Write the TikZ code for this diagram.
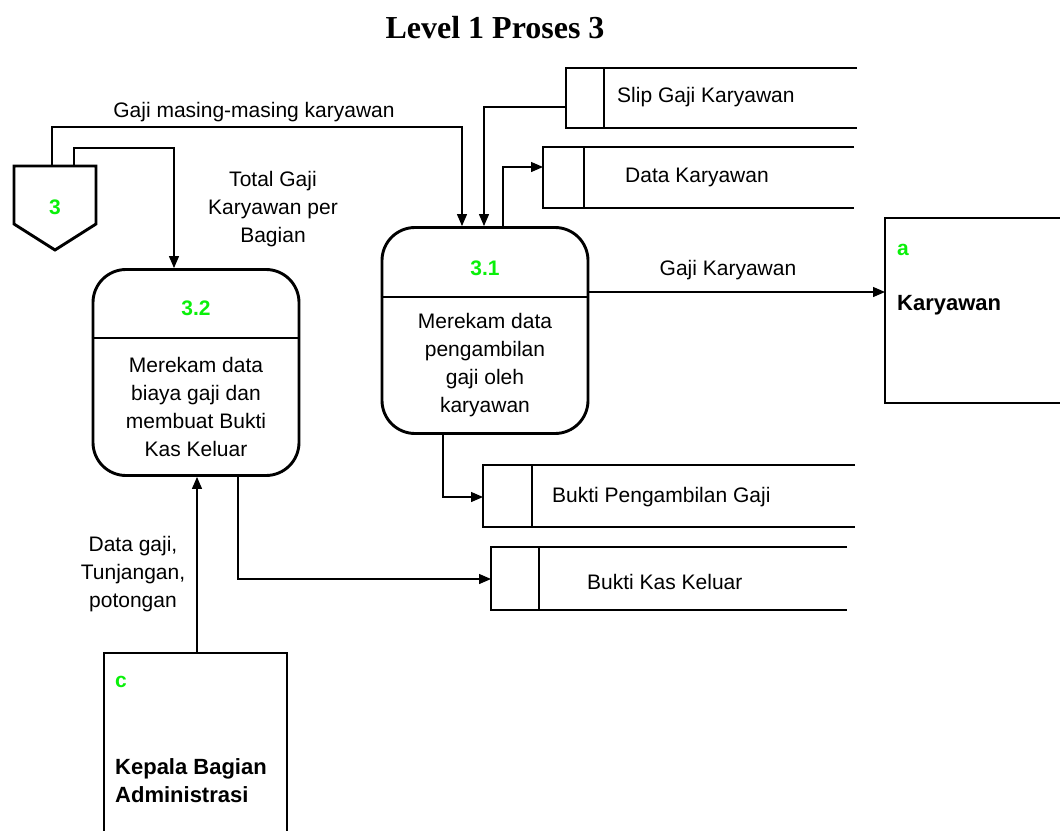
\documentclass[tikz,border=0pt]{standalone}
\usepackage{fontspec}
\setmainfont{Liberation Sans}
\newfontfamily\titleserif{Liberation Serif}
\usetikzlibrary{arrows.meta}
\definecolor{idgreen}{RGB}{10,240,10}

\begin{document}
\begin{tikzpicture}[x=1pt,y=-1pt,
  border/.style={line width=2.9pt},
  flow/.style={line width=1.3pt,-{Triangle[length=12pt,width=10pt]}},
  proc/.style={draw,line width=2.9pt,rounded corners=33pt,
    minimum width=206pt,minimum height=206pt,inner sep=0pt},
  frame/.style={inner sep=0pt,outer sep=0pt},
  lbl/.style={font=\fontsize{21}{28}\selectfont,align=center,inner sep=0pt},
  storetext/.style={font=\fontsize{21}{28}\selectfont,anchor=west,inner sep=0pt},
  procid/.style={font=\bfseries\fontsize{21}{26}\selectfont,text=idgreen,inner sep=0pt},
  entid/.style={font=\bfseries\fontsize{21}{26}\selectfont,text=idgreen,anchor=west,inner sep=0pt},
  entname/.style={font=\bfseries\fontsize{22}{28}\selectfont,anchor=west,align=left,inner sep=0pt}
]
\useasboundingbox (0,0) rectangle (1060,830);

% title
\node[font=\titleserif\bfseries\fontsize{32}{38}\selectfont] (title) at (495,28) {Level 1 Proses 3};

% off-page connector 3
\coordinate (o1) at (14,166);
\coordinate (o2) at (96,166);
\coordinate (o3) at (96,224);
\coordinate (o4) at (55,250);
\coordinate (o5) at (14,224);
\draw[border] (o1) -- (o2) -- (o3) -- (o4) -- (o5) -- cycle;
\node[procid] (off3) at (55,207) {3};
\coordinate (c3a) at (52,166);
\coordinate (c3b) at (74,166);

% processes
\node[proc] (p32) at (196,372.5) {};
\draw[border] (p32.west |- 0,338) -- (p32.east |- 0,338);
\node[procid] (p32id) at (196,308) {3.2};
\node[lbl] (p32txt) at (196,407) {Merekam data\\biaya gaji dan\\membuat Bukti\\Kas Keluar};

\node[proc] (p31) at (485,330.5) {};
\draw[border] (p31.west |- 0,297) -- (p31.east |- 0,297);
\node[procid] (p31id) at (485,268) {3.1};
\node[lbl] (p31txt) at (485,365.5) {Merekam data\\pengambilan\\gaji oleh\\karyawan};

% data stores
\node[frame,minimum width=291pt,minimum height=60pt] (slip) at (711.5,98) {};
\draw[border] (slip.north east) -- (slip.north west) -- (slip.south west) -- (slip.south east);
\draw[border] ([xshift=38pt]slip.north west) -- ([xshift=38pt]slip.south west);
\node[storetext] (sliptxt) at (617,97) {Slip Gaji Karyawan};

\node[frame,minimum width=311pt,minimum height=61pt] (dk) at (698.5,177.5) {};
\draw[border] (dk.north east) -- (dk.north west) -- (dk.south west) -- (dk.south east);
\draw[border] ([xshift=41pt]dk.north west) -- ([xshift=41pt]dk.south west);
\node[storetext] (dktxt) at (625,177) {Data Karyawan};

\node[frame,minimum width=372pt,minimum height=62pt] (bp) at (669,496) {};
\draw[border] (bp.north east) -- (bp.north west) -- (bp.south west) -- (bp.south east);
\draw[border] ([xshift=49pt]bp.north west) -- ([xshift=49pt]bp.south west);
\node[storetext] (bptxt) at (552,497) {Bukti Pengambilan Gaji};

\node[frame,minimum width=356pt,minimum height=63pt] (bk) at (669,578.5) {};
\draw[border] (bk.north east) -- (bk.north west) -- (bk.south west) -- (bk.south east);
\draw[border] ([xshift=48pt]bk.north west) -- ([xshift=48pt]bk.south west);
\node[storetext] (bktxt) at (587,582) {Bukti Kas Keluar};

% external entities
\node[frame,minimum width=176pt,minimum height=185pt] (ea) at (973,310.5) {};
\draw[border] (ea.north east) -- (ea.north west) -- (ea.south west) -- (ea.south east);
\node[entid] (eaid) at (897,250) {a};
\node[entname] (eaname) at (897,305) {Karyawan};

\node[frame,minimum width=183pt,minimum height=178pt] (ec) at (195.5,742) {};
\draw[border] (ec.south west) -- (ec.north west) -- (ec.north east) -- (ec.south east);
\node[entid] (ecid) at (115,682) {c};
\node[entname] (ecname) at (115,781) {Kepala Bagian\\Administrasi};

% data flows
\coordinate (k1) at (462,127);
\draw[flow] (c3a) |- (k1) -- (k1 |- p31.north);
\node[lbl] (l1) at (254,112) {Gaji masing-masing karyawan};

\coordinate (k2) at (174,148);
\draw[flow] (c3b) |- (k2) -- (k2 |- p32.north);
\node[lbl] (l2) at (273,209) {Total Gaji\\Karyawan per\\Bagian};

\coordinate (k3) at (484,107);
\draw[flow] (slip.west |- k3) -- (k3) -- (k3 |- p31.north);

\coordinate (k4) at (503,167);
\draw[flow] (k4 |- p31.north) -- (k4) -- (dk.west |- k4);

\coordinate (k5) at (700,292);
\draw[flow] (p31.east |- k5) -- (ea.west |- k5);
\node[lbl] (l5) at (728,270) {Gaji Karyawan};

\coordinate (k6) at (443,497);
\draw[flow] (k6 |- p31.south) -- (k6) -- (bp.west |- k6);

\coordinate (k7) at (238,579);
\draw[flow] (k7 |- p32.south) -- (k7) -- (bk.west |- k7);

\coordinate (k8) at (197,700);
\draw[flow] (k8 |- ec.north) -- (k8 |- p32.south);
\node[lbl] (l8) at (133,574) {Data gaji,\\Tunjangan,\\potongan};

\end{tikzpicture}
\end{document}
